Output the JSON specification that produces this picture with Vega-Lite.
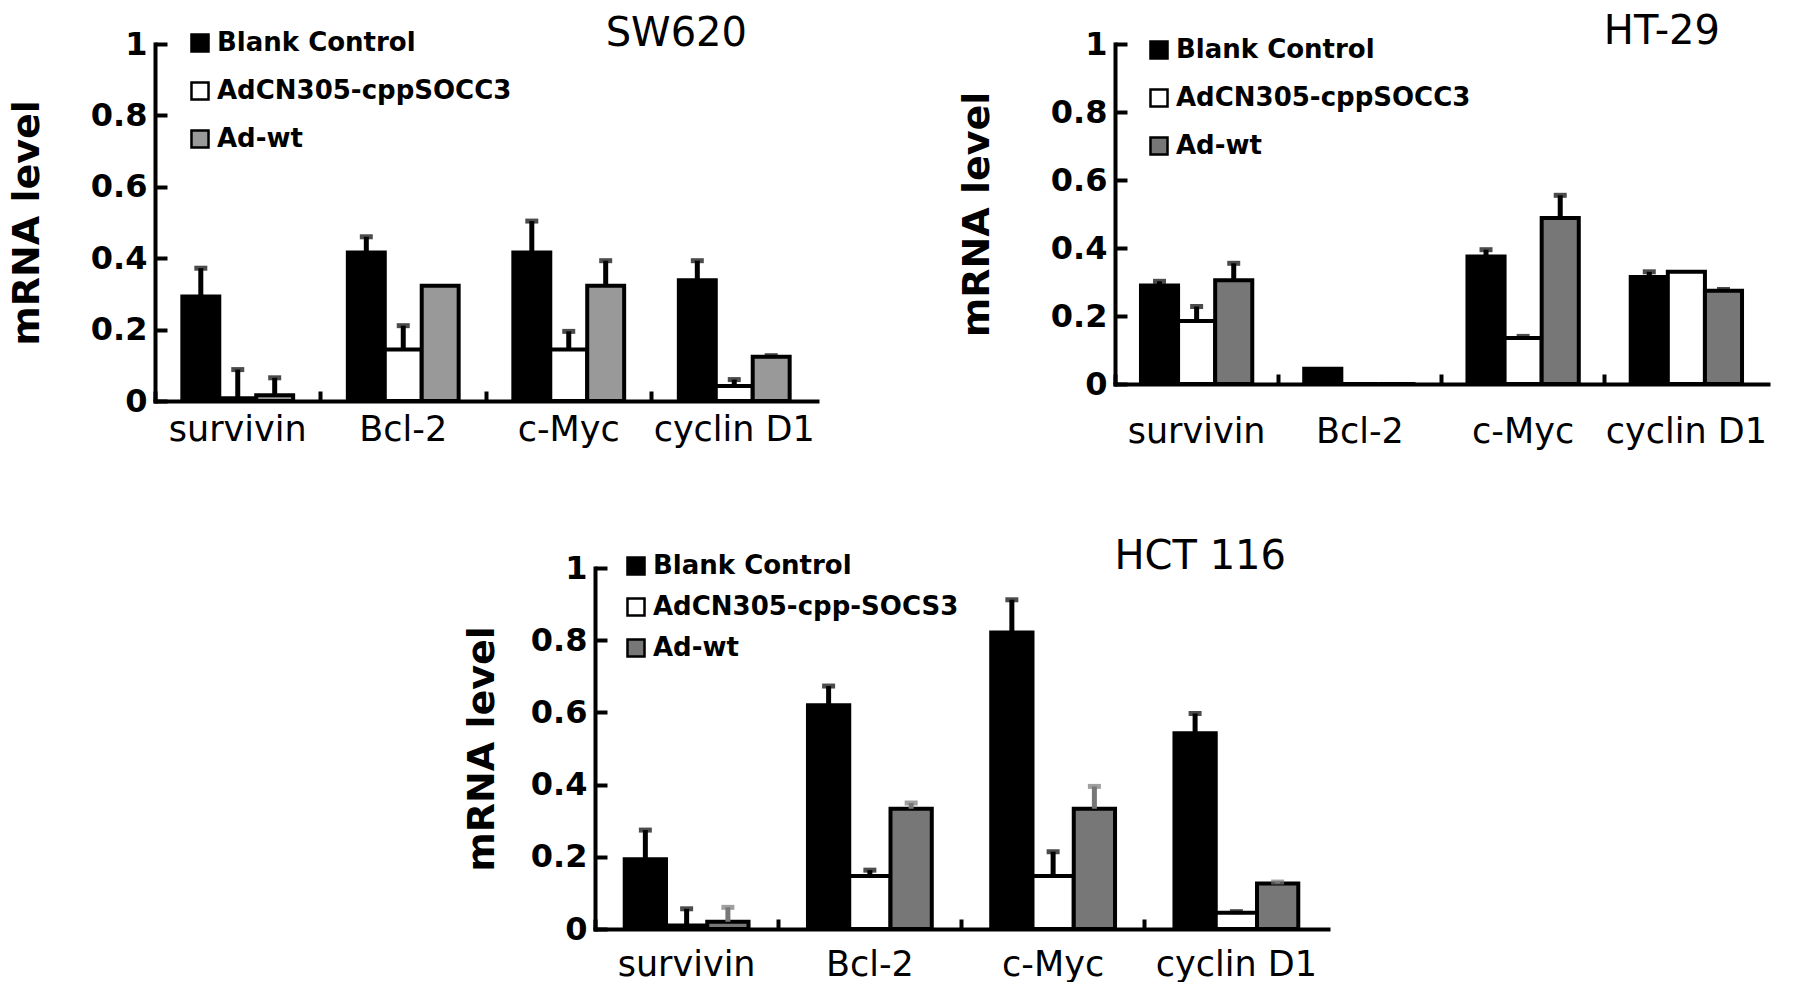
{
  "$schema": "https://vega.github.io/schema/vega-lite/v6.json",
  "background": "white",
  "padding": {"left": 8, "top": 12, "right": 5, "bottom": 0},
  "spacing": 88,
  "center": true,
  "datasets": {
    "sw620": [
      {"gene": "survivin", "group": "Blank Control", "value": 0.293, "hi": 0.372},
      {"gene": "survivin", "group": "AdCN305-cppSOCC3", "value": 0.008, "hi": 0.088},
      {"gene": "survivin", "group": "Ad-wt", "value": 0.016, "hi": 0.065},
      {"gene": "Bcl-2", "group": "Blank Control", "value": 0.416, "hi": 0.46},
      {"gene": "Bcl-2", "group": "AdCN305-cppSOCC3", "value": 0.144, "hi": 0.211},
      {"gene": "Bcl-2", "group": "Ad-wt", "value": 0.323, "hi": 0.323},
      {"gene": "c-Myc", "group": "Blank Control", "value": 0.416, "hi": 0.504},
      {"gene": "c-Myc", "group": "AdCN305-cppSOCC3", "value": 0.144, "hi": 0.195},
      {"gene": "c-Myc", "group": "Ad-wt", "value": 0.323, "hi": 0.393},
      {"gene": "cyclin D1", "group": "Blank Control", "value": 0.338, "hi": 0.393},
      {"gene": "cyclin D1", "group": "AdCN305-cppSOCC3", "value": 0.042, "hi": 0.06},
      {"gene": "cyclin D1", "group": "Ad-wt", "value": 0.124, "hi": 0.127}
    ],
    "ht29": [
      {"gene": "survivin", "group": "Blank Control", "value": 0.29, "hi": 0.302},
      {"gene": "survivin", "group": "AdCN305-cppSOCC3", "value": 0.185, "hi": 0.228},
      {"gene": "survivin", "group": "Ad-wt", "value": 0.305, "hi": 0.355},
      {"gene": "Bcl-2", "group": "Blank Control", "value": 0.045, "hi": 0.045},
      {"gene": "Bcl-2", "group": "AdCN305-cppSOCC3", "value": 0, "hi": 0},
      {"gene": "Bcl-2", "group": "Ad-wt", "value": 0, "hi": 0},
      {"gene": "c-Myc", "group": "Blank Control", "value": 0.375, "hi": 0.395},
      {"gene": "c-Myc", "group": "AdCN305-cppSOCC3", "value": 0.135, "hi": 0.14},
      {"gene": "c-Myc", "group": "Ad-wt", "value": 0.488, "hi": 0.555},
      {"gene": "cyclin D1", "group": "Blank Control", "value": 0.315, "hi": 0.33},
      {"gene": "cyclin D1", "group": "AdCN305-cppSOCC3", "value": 0.33, "hi": 0.33},
      {"gene": "cyclin D1", "group": "Ad-wt", "value": 0.274, "hi": 0.278}
    ],
    "hct116": [
      {"gene": "survivin", "group": "Blank Control", "value": 0.193, "hi": 0.274},
      {"gene": "survivin", "group": "AdCN305-cpp-SOCS3", "value": 0.01, "hi": 0.056},
      {"gene": "survivin", "group": "Ad-wt", "value": 0.02, "hi": 0.06},
      {"gene": "Bcl-2", "group": "Blank Control", "value": 0.62, "hi": 0.673},
      {"gene": "Bcl-2", "group": "AdCN305-cpp-SOCS3", "value": 0.147, "hi": 0.163},
      {"gene": "Bcl-2", "group": "Ad-wt", "value": 0.333, "hi": 0.349},
      {"gene": "c-Myc", "group": "Blank Control", "value": 0.821, "hi": 0.912},
      {"gene": "c-Myc", "group": "AdCN305-cpp-SOCS3", "value": 0.147, "hi": 0.214},
      {"gene": "c-Myc", "group": "Ad-wt", "value": 0.333, "hi": 0.395},
      {"gene": "cyclin D1", "group": "Blank Control", "value": 0.542, "hi": 0.597},
      {"gene": "cyclin D1", "group": "AdCN305-cpp-SOCS3", "value": 0.045, "hi": 0.048},
      {"gene": "cyclin D1", "group": "Ad-wt", "value": 0.126, "hi": 0.13}
    ]
  },
  "vconcat": [
    {
      "spacing": 141,
      "hconcat": [
        {
          "width": 662,
          "height": 357,
          "data": {"name": "sw620"},
          "title": {"text": "SW620", "anchor": "end", "offset": -26, "dx": -70},
          "encoding": {
            "x": {
              "field": "gene", "type": "nominal", "sort": null,
              "scale": {"paddingInner": 0, "paddingOuter": 0},
              "axis": {"labelPadding": 21}
            },
            "xOffset": {
              "field": "group", "type": "nominal",
              "sort": ["Blank Control", "AdCN305-cppSOCC3", "Ad-wt"],
              "scale": {"paddingInner": 0, "paddingOuter": 0.74}
            },
            "y": {
              "field": "value", "type": "quantitative",
              "scale": {"domain": [0, 1], "nice": false},
              "axis": {"title": "mRNA level", "titlePadding": 44, "values": [0, 0.2, 0.4, 0.6, 0.8, 1], "format": "~g"}
            }
          },
          "layer": [
            {
              "mark": {"type": "bar", "stroke": "black", "strokeWidth": 4},
              "encoding": {
                "color": {
                  "field": "group", "type": "nominal",
                  "sort": ["Blank Control", "AdCN305-cppSOCC3", "Ad-wt"],
                  "scale": {"domain": ["Blank Control", "AdCN305-cppSOCC3", "Ad-wt"], "range": ["#000000", "#ffffff", "#999999"]},
                  "legend": {"orient": "none", "legendX": 32, "legendY": -14, "rowPadding": 20, "title": null}
                }
              }
            },
            {
              "transform": [{"filter": "datum.hi > datum.value"}],
              "mark": {"type": "rule", "color": "black", "strokeWidth": 5},
              "encoding": {"y2": {"field": "hi"}}
            },
            {
              "transform": [{"filter": "datum.hi > datum.value"}],
              "mark": {"type": "tick", "color": "black", "thickness": 5, "size": 13, "orient": "horizontal"},
              "encoding": {"y": {"field": "hi", "type": "quantitative"}}
            }
          ]
        },
        {
          "width": 653,
          "height": 340,
          "data": {"name": "ht29"},
          "title": {"text": "HT-29", "anchor": "end", "offset": -24, "dx": -48},
          "encoding": {
            "x": {
              "field": "gene", "type": "nominal", "sort": null,
              "scale": {"paddingInner": 0, "paddingOuter": 0},
              "axis": {"labelPadding": 40}
            },
            "xOffset": {
              "field": "group", "type": "nominal",
              "sort": ["Blank Control", "AdCN305-cppSOCC3", "Ad-wt"],
              "scale": {"paddingInner": 0, "paddingOuter": 0.7}
            },
            "y": {
              "field": "value", "type": "quantitative",
              "scale": {"domain": [0, 1], "nice": false},
              "axis": {"title": "mRNA level", "titlePadding": 54, "values": [0, 0.2, 0.4, 0.6, 0.8, 1], "format": "~g"}
            }
          },
          "layer": [
            {
              "mark": {"type": "bar", "stroke": "black", "strokeWidth": 4},
              "encoding": {
                "color": {
                  "field": "group", "type": "nominal",
                  "sort": ["Blank Control", "AdCN305-cppSOCC3", "Ad-wt"],
                  "scale": {"domain": ["Blank Control", "AdCN305-cppSOCC3", "Ad-wt"], "range": ["#000000", "#ffffff", "#777777"]},
                  "legend": {"orient": "none", "legendX": 31, "legendY": -7, "rowPadding": 20, "title": null}
                }
              }
            },
            {
              "transform": [{"filter": "datum.hi > datum.value"}],
              "mark": {"type": "rule", "color": "black", "strokeWidth": 5},
              "encoding": {"y2": {"field": "hi"}}
            },
            {
              "transform": [{"filter": "datum.hi > datum.value"}],
              "mark": {"type": "tick", "color": "black", "thickness": 5, "size": 13, "orient": "horizontal"},
              "encoding": {"y": {"field": "hi", "type": "quantitative"}}
            }
          ]
        }
      ],
      "resolve": {"scale": {"color": "independent", "x": "independent", "y": "independent", "xOffset": "independent"}, "legend": {"color": "independent"}}
    },
    {
      "width": 733,
      "height": 361,
      "data": {"name": "hct116"},
      "title": {"text": "HCT 116", "anchor": "end", "offset": -25, "dx": -42},
      "encoding": {
        "x": {
          "field": "gene", "type": "nominal", "sort": null,
          "scale": {"paddingInner": 0, "paddingOuter": 0},
          "axis": {"labelPadding": 28}
        },
        "xOffset": {
          "field": "group", "type": "nominal",
          "sort": ["Blank Control", "AdCN305-cpp-SOCS3", "Ad-wt"],
          "scale": {"paddingInner": 0, "paddingOuter": 0.72}
        },
        "y": {
          "field": "value", "type": "quantitative",
          "scale": {"domain": [0, 1], "nice": false},
          "axis": {"title": "mRNA level", "titlePadding": 29, "values": [0, 0.2, 0.4, 0.6, 0.8, 1], "format": "~g"}
        }
      },
      "layer": [
        {
          "mark": {"type": "bar", "stroke": "black", "strokeWidth": 4},
          "encoding": {
            "color": {
              "field": "group", "type": "nominal",
              "sort": ["Blank Control", "AdCN305-cpp-SOCS3", "Ad-wt"],
              "scale": {"domain": ["Blank Control", "AdCN305-cpp-SOCS3", "Ad-wt"], "range": ["#000000", "#ffffff", "#777777"]},
              "legend": {"orient": "none", "legendX": 28, "legendY": -15, "rowPadding": 13, "title": null}
            }
          }
        },
        {
          "transform": [{"filter": "datum.hi > datum.value"}],
          "mark": {"type": "rule", "strokeWidth": 5},
          "encoding": {
            "y2": {"field": "hi"},
            "color": {"condition": {"test": "datum.group === 'Ad-wt'", "value": "#777777"}, "value": "black"}
          }
        },
        {
          "transform": [{"filter": "datum.hi > datum.value"}],
          "mark": {"type": "tick", "thickness": 5, "size": 13, "orient": "horizontal"},
          "encoding": {
            "y": {"field": "hi", "type": "quantitative"},
            "color": {"condition": {"test": "datum.group === 'Ad-wt'", "value": "#777777"}, "value": "black"}
          }
        }
      ]
    }
  ],
  "resolve": {"scale": {"color": "independent", "x": "independent", "y": "independent", "xOffset": "independent"}, "legend": {"color": "independent"}},
  "config": {
    "font": "DejaVu Sans",
    "view": {"stroke": null},
    "title": {"fontSize": 40, "fontWeight": "normal", "color": "black", "font": "DejaVu Sans"},
    "axis": {
      "domainColor": "black",
      "domainWidth": 4,
      "tickColor": "black",
      "tickWidth": 4,
      "labelColor": "black",
      "titleColor": "black",
      "grid": false
    },
    "axisX": {
      "title": null,
      "labelAngle": 0,
      "labelFontSize": 35,
      "labelFontWeight": "normal",
      "bandPosition": 0,
      "tickSize": -10,
      "domainCap": "square"
    },
    "axisY": {
      "labelFontSize": 32,
      "labelFontWeight": "bold",
      "labelPadding": 20,
      "tickSize": -12,
      "titleFontSize": 38,
      "titleFontWeight": "bold",
      "domainCap": "square"
    },
    "legend": {
      "labelFontSize": 26,
      "labelFontWeight": "bold",
      "labelColor": "black",
      "symbolType": "square",
      "symbolSize": 290,
      "symbolStrokeColor": "black",
      "symbolStrokeWidth": 2.5,
      "labelOffset": 4,
      "labelLimit": 500
    }
  }
}
